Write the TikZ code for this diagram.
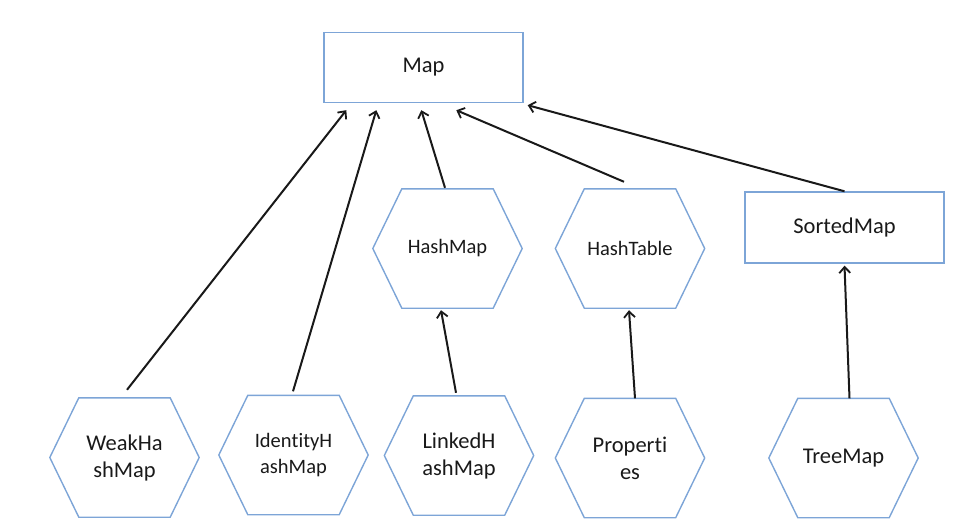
\documentclass[tikz,border=0pt]{standalone}
\usepackage{fontspec}
\setmainfont{Carlito}[Ligatures={NoCommon,NoContextual}]
\usetikzlibrary{calc,arrows.meta}
\definecolor{boxblue}{RGB}{125,165,215}
\definecolor{txt}{RGB}{25,25,25}
\tikzset{
  rectbox/.style={draw=boxblue, line width=1.4pt, minimum width=199pt, minimum height=70pt, inner sep=0pt, text=txt, align=center},
  hexbox/.style={draw=none, minimum width=149pt, minimum height=119pt, inner sep=0pt, text=txt, align=center},
  hexline/.style={draw=boxblue, line width=1.4pt, line join=miter},
  inherit/.style={draw=black!90, line width=2pt, -{Straight Barb[length=6pt,width=11pt,line width=1.8pt]}},
  big/.style={font=\fontsize{22.5}{27}\selectfont},
  small/.style={font=\fontsize{20.5}{26}\selectfont}
}
\begin{document}
\begin{tikzpicture}[x=1pt,y=-1pt]
\useasboundingbox (0,0) rectangle (974,532);
% nodes
\node[rectbox,big] (map) at (423.5,67.5) {Map};
\node[rectbox,big,minimum height=71pt] (sorted) at (844.5,227.5) {SortedMap};
\node[hexbox,small] (hashmap) at (447.5,248.5) {HashMap};
\node[hexbox,small] (hashtable) at (630,248.5) {HashTable};
\node[hexbox,big] (weak) at (124.5,457.5) {WeakHa\\shMap};
\node[hexbox,small] (ident) at (293.5,455) {Iden\kern0pt ti\kern0pt tyH\\ashMap};
\node[hexbox,big] (linked) at (459,455.5) {LinkedH\\ashMap};
\node[hexbox,big] (props) at (630,458) {Proper\kern0pt ti\\es};
\node[hexbox,big] (tree) at (843.5,458) {TreeMap};
% hexagon outlines
\foreach \n in {hashmap,hashtable,weak,ident,linked,props,tree}{
  \draw[hexline] (\n.west) -- ($(\n.north west)+(29,0)$) -- ($(\n.north east)+(-29,0)$) -- (\n.east)
    -- ($(\n.south east)+(-29,0)$) -- ($(\n.south west)+(29,0)$) -- cycle;
}
% connector end points
\coordinate (mw) at ($(map.south west)+(23,7)$);
\coordinate (mi) at ($(map.south west)+(53,7)$);
\coordinate (mh) at ($(map.south west)+(98,7)$);
\coordinate (mt) at ($(map.south west)+(133,7)$);
\coordinate (ms) at ($(map.south east)+(4,2)$);
\coordinate (sw) at ($(weak.north)+(2.5,-8)$);
\coordinate (si) at ($(ident.north)+(-0.5,-4)$);
\coordinate (sh) at ($(hashmap.north)+(-2.5,-1)$);
\coordinate (st) at ($(hashtable.north)+(-6,-7)$);
\coordinate (ss) at ($(sorted.north)+(0,0)$);
\coordinate (sl) at ($(linked.north)+(-3,-3)$);
\coordinate (hb) at ($(hashmap.south)+(-6.5,2)$);
\coordinate (sp) at ($(props.north)+(5,0)$);
\coordinate (tb) at ($(hashtable.south)+(-1,2)$);
\coordinate (st2) at ($(tree.north)+(6,0)$);
\coordinate (sb) at ($(sorted.south)+(0,2)$);
% connectors
\draw[inherit] (sw) -- (mw);
\draw[inherit] (si) -- (mi);
\draw[inherit] (sh) -- (mh);
\draw[inherit] (st) -- (mt);
\draw[inherit] (ss) -- (ms);
\draw[inherit] (sl) -- (hb);
\draw[inherit] (sp) -- (tb);
\draw[inherit] (st2) -- (sb);
\end{tikzpicture}
\end{document}
